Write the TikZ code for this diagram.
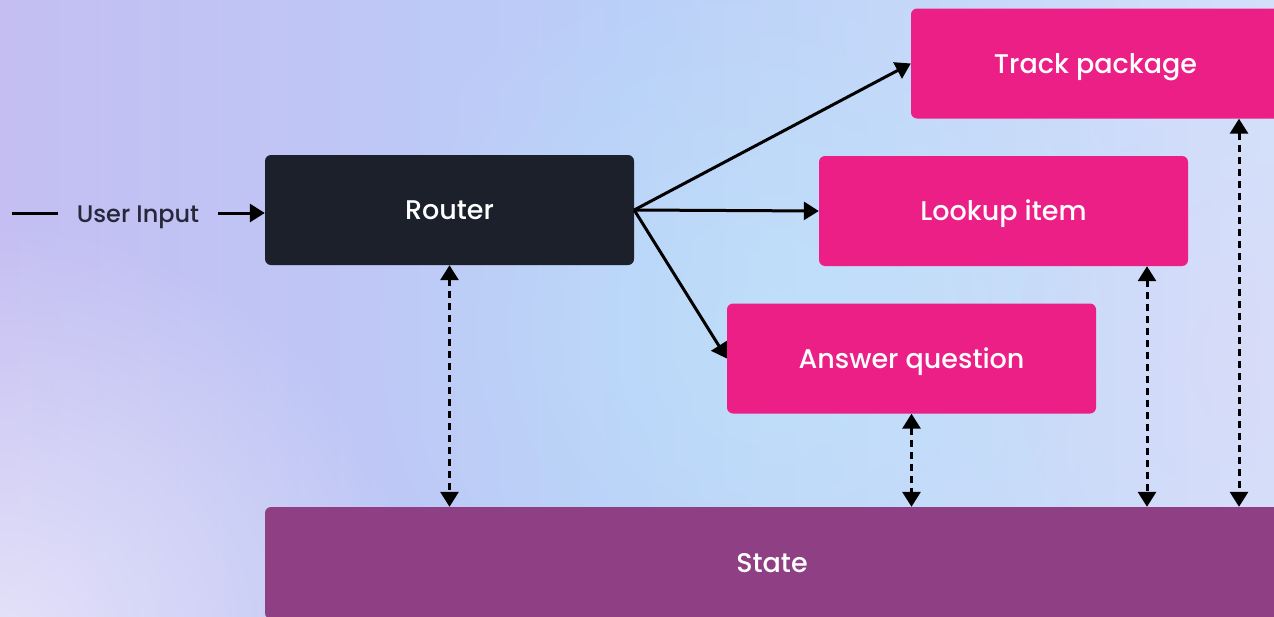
\documentclass[tikz,border=0pt]{standalone}
\usepackage{fontspec}
\setmainfont{Poppins Medium}
\usetikzlibrary{arrows.meta,fadings,calc}

\definecolor{bgleft}{RGB}{196,190,242}
\definecolor{bgmid}{RGB}{186,206,248}
\definecolor{bgright}{RGB}{212,224,250}
\definecolor{navy}{RGB}{27,32,43}
\definecolor{hotpink}{RGB}{236,31,134}
\definecolor{plum}{RGB}{143,63,131}
\definecolor{inktext}{RGB}{38,40,58}

\tikzfading[name=softglow, inner color=transparent!0, outer color=transparent!100]

\tikzset{
  box/.style={rounded corners=6pt, minimum width=369pt, minimum height=110pt,
    inner sep=0pt, text=white, font=\fontsize{27}{31}\selectfont,
    text height=19pt, text depth=0pt},
  routerbox/.style={box, fill=navy},
  taskbox/.style={box, fill=hotpink},
  statebox/.style={box, fill=plum, minimum width=1014pt, minimum height=112pt},
  flow/.style={line width=3pt, -{Triangle[width=18pt,length=15pt]}},
  sync/.style={line width=3pt, dash pattern=on 7pt off 5pt,
    {Triangle[width=18pt,length=15pt]}-{Triangle[width=18pt,length=15pt]}},
}

\begin{document}
\begin{tikzpicture}[x=1pt, y=-1pt]
  \useasboundingbox (0,0) rectangle (1274,616);
  \clip (0,0) rectangle (1274,616);

  % backdrop
  \shade[left color=bgleft, right color=bgright, middle color=bgmid]
    (0,0) rectangle (1274,616);
  \fill[white, opacity=0.55, path fading=softglow]
    (0,640) circle (420);
  \fill[cyan!25!white, opacity=0.55, path fading=softglow]
    (780,330) circle (420);
  \fill[bgleft!60!white, opacity=0.5, path fading=softglow]
    (1274,360) circle (260);

  % nodes
  \node[routerbox] (router) at (449.5,210) {Router};
  \node[taskbox] (track) at (1095.5,63.5) {Track package};
  \node[taskbox] (lookup) at (1003.5,211) {Lookup item};
  \node[taskbox] (answer) at (911.5,358.5) {Answer question};
  \node[statebox] (state) at (772,563) {State};

  % input
  \coordinate (inputstart) at (12,213);
  \node[text=inktext, inner xsep=19pt, inner ysep=0pt,
        font=\fontsize{24}{28}\selectfont, text height=17pt, text depth=0pt]
        (uin) at (138,213.5) {User Input};
  \draw[line width=3pt] (inputstart) -- (inputstart -| uin.west);
  \draw[flow] (uin.east |- inputstart) -- (inputstart -| router.west);

  % routing
  \draw[flow] (router.east) -- (track.west);
  \draw[flow] (router.east) -- (lookup.west);
  \draw[flow] (router.east) -- (answer.west);

  % state access
  \draw[sync] (router.south) -- (router.south |- state.north);
  \draw[sync] (answer.south) -- (answer.south |- state.north);
  \draw[sync] ([xshift=143.5pt]lookup.south) -- ([xshift=143.5pt]lookup.south |- state.north);
  \draw[sync] ([xshift=143.5pt]track.south) -- ([xshift=143.5pt]track.south |- state.north);
\end{tikzpicture}
\end{document}
